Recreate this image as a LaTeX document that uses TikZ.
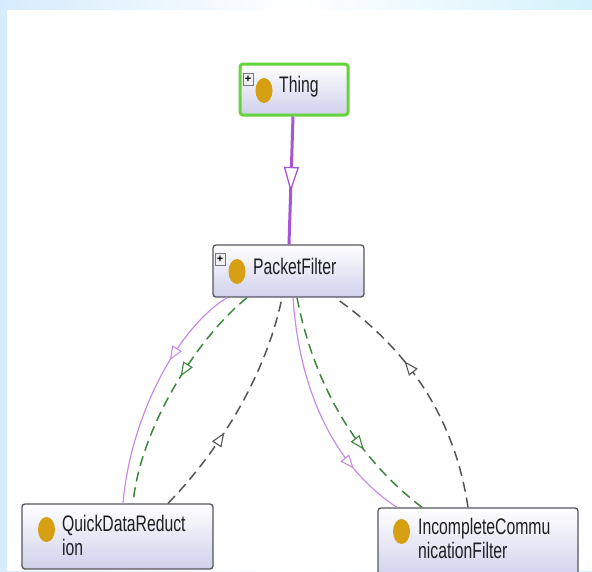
\documentclass[tikz,border=0pt]{standalone}
\usepackage{fontspec}
\setmainfont{Liberation Sans}
\usetikzlibrary{arrows.meta,decorations.markings,calc,shapes.geometric}

\definecolor{boxline}{RGB}{85,85,95}
\definecolor{boxlow}{RGB}{208,208,236}
\definecolor{thinggreen}{RGB}{100,212,60}
\definecolor{isapurple}{RGB}{168,84,214}
\definecolor{lightpurple}{RGB}{200,140,232}
\definecolor{eqgreen}{RGB}{60,135,60}
\definecolor{relgray}{RGB}{85,85,85}
\definecolor{bulletgold}{RGB}{214,160,18}
\definecolor{textdark}{RGB}{30,30,35}

\newcommand{\cls}[1]{\scalebox{0.70}[1]{#1}}

\tikzset{
  classbox/.style={draw=boxline, line width=1.3pt, rounded corners=3pt,
    top color=white, bottom color=boxlow, inner sep=0pt},
  rootbox/.style={classbox, draw=thinggreen, line width=3pt},
  bullet/.style={ellipse, fill=bulletgold, inner sep=0pt,
    minimum width=17pt, minimum height=25pt},
  expander/.style={draw=boxline!80, fill=gray!12, line width=0.7pt,
    minimum width=10pt, minimum height=12pt, inner sep=0pt,
    font=\fontsize{11}{11}\selectfont\bfseries},
  label/.style={anchor=base west, inner sep=0pt, text=textdark,
    font=\fontsize{22.5}{22.5}\selectfont},
  midtip/.style={postaction={decorate}, decoration={markings,
    mark=at position #1 with {\arrow[solid]{Triangle[fill=white, length=14pt, width=11pt, line width=1.1pt]}}}},
  isa/.style={draw=isapurple, line width=3pt},
  subclass/.style={draw=lightpurple, line width=1.2pt},
  equivalent/.style={draw=eqgreen, line width=1.5pt, dash pattern=on 10pt off 6pt},
  related/.style={draw=relgray, line width=1.5pt, dash pattern=on 10pt off 6pt},
}

\begin{document}
\begin{tikzpicture}[x=1pt, y=-1pt]
  \useasboundingbox (0,0) rectangle (592,571);
  \clip (0,0) rectangle (592,571);

  % page background and white canvas
  \shade[left color={rgb,255:red,214;green,236;blue,252}, right color={rgb,255:red,212;green,242;blue,252},
         middle color=white] (0,0) rectangle (592,571);
  \fill[white] (7,10) rectangle (592,571);

  % class boxes
  \node[rootbox, minimum width=108pt, minimum height=51pt] (thing) at (294,89.5) {};
  \node[classbox, minimum width=151pt, minimum height=52pt] (pf) at (288.5,271) {};
  \node[classbox, minimum width=191pt, minimum height=65pt] (qdr) at (117.5,536.5) {};
  \node[classbox, minimum width=200pt, minimum height=72pt] (icf) at (478,544) {};

  % expander buttons
  \node[expander] (thingplus) at (248,79) {+};
  \node[expander] (pfplus) at (220,259) {+};

  % class bullets
  \node[bullet] (thingdot) at (264,90.5) {};
  \node[bullet] (pfdot) at (237,271.5) {};
  \node[bullet] (qdrdot) at (46.5,529.5) {};
  \node[bullet] (icfdot) at (401.5,531.5) {};

  % class names
  \node[label] (thingtxt) at (279,92) {\cls{Thing}};
  \node[label] (pftxt) at (253,274) {\cls{PacketFilter}};
  \node[label] (qdrtxt1) at (62,531) {\cls{QuickDataReduct}};
  \node[label] (qdrtxt2) at (62,555) {\cls{ion}};
  \node[label] (icftxt1) at (418,534) {\cls{IncompleteCommu}};
  \node[label] (icftxt2) at (418,558) {\cls{nicationFilter}};

  % Thing -> PacketFilter
  \draw[isa, postaction={decorate}, decoration={markings,
      mark=at position 0.59 with {\arrow{Triangle[fill=white, length=25pt, width=15pt, line width=1.3pt]}}}]
    ([xshift=-1pt]thing.south) -- ([xshift=0.5pt]pf.north);

  % PacketFilter -> QuickDataReduction
  \draw[subclass, midtip=0.36]
    ([xshift=-61.5pt]pf.south) .. controls (175,330) and (130,420) .. ([xshift=5.5pt]qdr.north);
  \draw[equivalent, midtip=0.43]
    ([xshift=-41.5pt]pf.south) .. controls (195,340) and (140,430) .. ([xshift=15.5pt]qdr.north);
  \draw[related, midtip=0.38]
    ([xshift=50.5pt]qdr.north) .. controls (215,455) and (265,380) .. ([xshift=-6.5pt]pf.south);

  % PacketFilter -> IncompleteCommunicationFilter
  \draw[subclass, midtip=0.76]
    ([xshift=4.5pt]pf.south) .. controls (300,400) and (340,470) .. ([xshift=-81pt]icf.north);
  \draw[equivalent, midtip=0.67]
    ([xshift=8.5pt]pf.south) .. controls (315,390) and (360,460) .. ([xshift=-56pt]icf.north);
  \draw[related, midtip=0.63]
    ([xshift=-10pt]icf.north) .. controls (455,420) and (410,350) .. ([xshift=46.5pt]pf.south);
\end{tikzpicture}
\end{document}
